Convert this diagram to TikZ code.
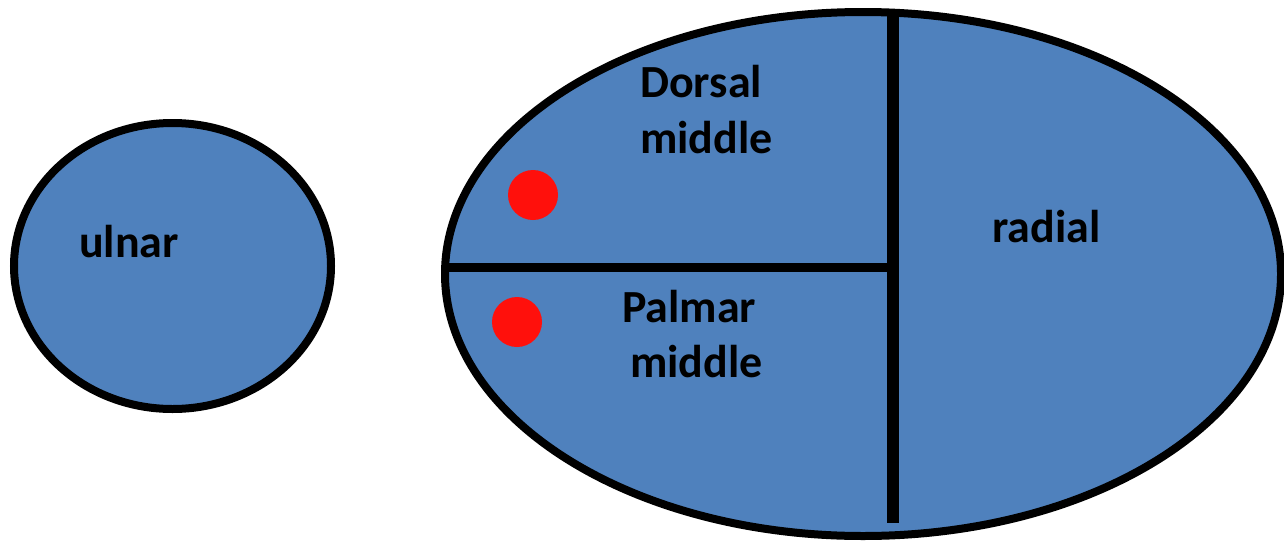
\documentclass[tikz,border=0pt]{standalone}
\usepackage{fontspec}
\setmainfont{Carlito}
\definecolor{fillblue}{HTML}{4F81BD}
\definecolor{dotred}{RGB}{255,16,12}
\tikzset{
  bone/.style={draw=black, fill=fillblue, line width=8pt},
  divider/.style={draw=black, line cap=butt},
  lbl/.style={font=\fontsize{46}{56}\selectfont\bfseries, text=black, inner sep=0pt},
  dot/.style={fill=dotred, draw=none}
}
\begin{document}
\begin{tikzpicture}[x=1pt,y=-1pt]
\useasboundingbox (0,0) rectangle (1284,541);
% ulnar
\path[bone] (172.5,266) ellipse [x radius=158.5, y radius=143];
% radius bone
\path[bone] (863,274) ellipse [x radius=418, y radius=262];
% dividers
\coordinate (vtop) at (893,12.5);
\coordinate (vbot) at (893,523);
\coordinate (hleft) at (445,267);
\coordinate (hright) at (893,267);
\draw[divider, line width=12pt] (vtop) -- (vbot);
\draw[divider, line width=9pt] (hleft) -- (hright);
% red dots
\fill[dot] (533,195) circle [radius=25];
\fill[dot] (517,322) circle [radius=25];
% labels
\node[lbl, anchor=base west] (ulnar) at (79,257) {ulnar};
\node[lbl, anchor=base west] (radial) at (992,242) {radial};
\node[lbl, anchor=base west] (dorsal1) at (640,97) {Dorsal};
\node[lbl, anchor=base west] (dorsal2) at (640,153) {middle};
\node[lbl, anchor=base west] (palmar1) at (622,322) {Palmar};
\node[lbl, anchor=base west] (palmar2) at (630,377) {middle};
\end{tikzpicture}
\end{document}
